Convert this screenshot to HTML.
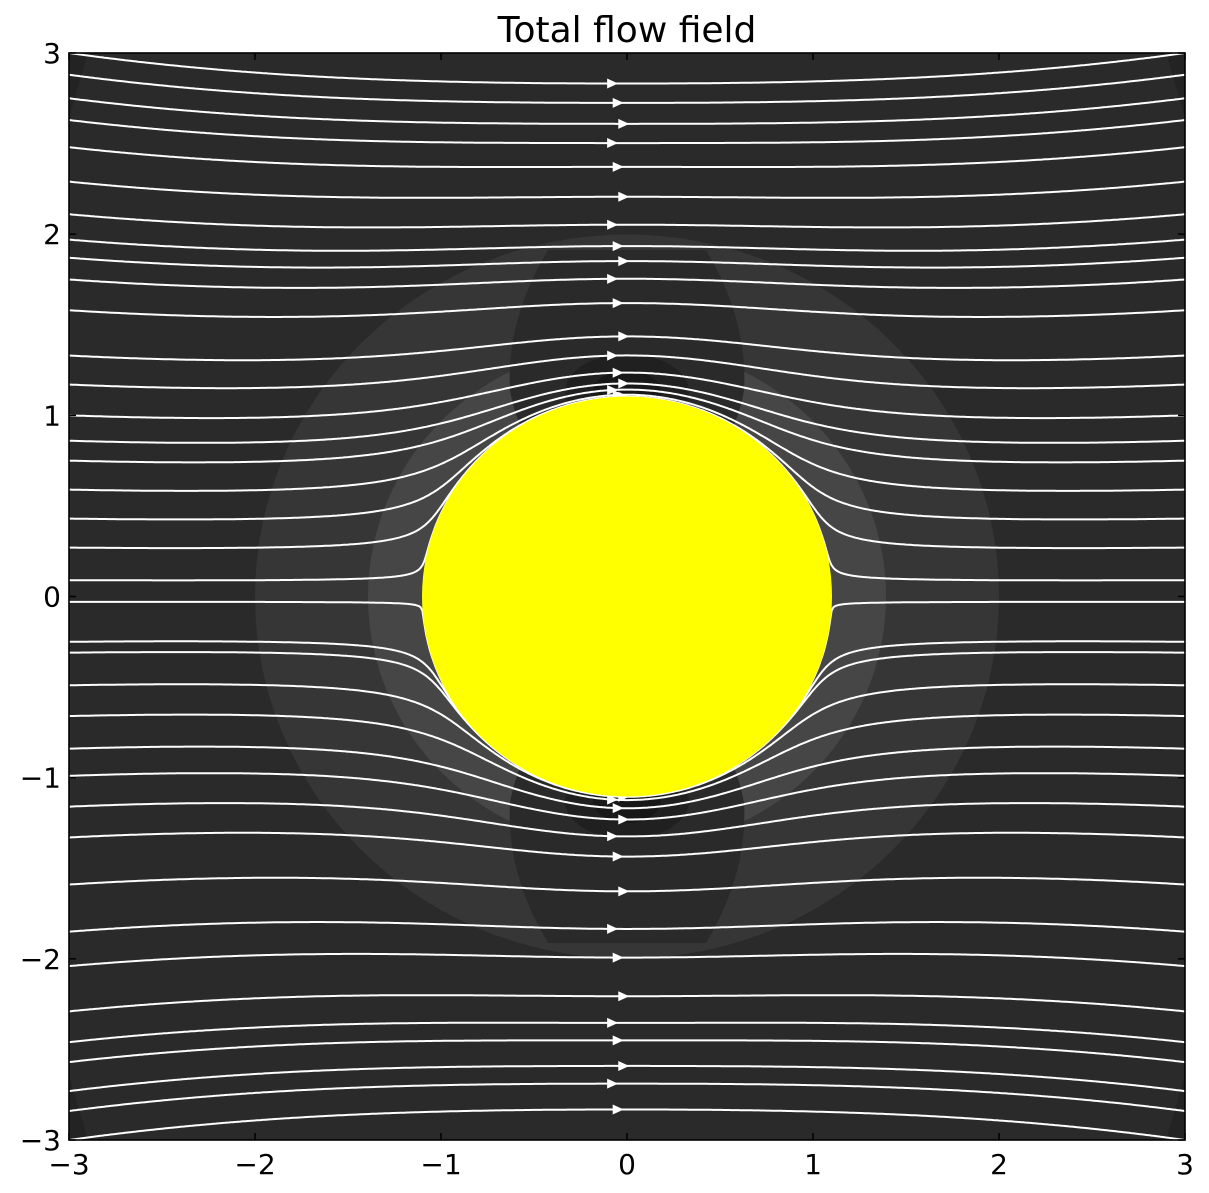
<!DOCTYPE html>
<html><head><meta charset="utf-8"><style>
html,body{margin:0;padding:0;background:#fff;}
svg{display:block;font-family:"DejaVu Sans","Liberation Sans",sans-serif;}
</style></head><body>
<svg id="chart" width="1209" height="1193" viewBox="0 0 1209 1193" xmlns="http://www.w3.org/2000/svg">
<defs><clipPath id="clip"><rect x="69" y="53" width="1116" height="1087"/></clipPath></defs>
<text x="627" y="42" font-size="36" text-anchor="middle" fill="#000">Total flow field</text>
<g clip-path="url(#clip)">
<rect x="69" y="53" width="1116" height="1087" fill="#2a2a2a"/>
<path d="M69,53 L88,53 L69,118Z M69,1140 L88,1140 L69,1075Z M1185,53 L1166,53 L1185,118Z M1185,1140 L1166,1140 L1185,1075Z" fill="#232323"/>
<ellipse cx="627" cy="596.5" rx="372" ry="362" fill="#363636"/>
<ellipse cx="627" cy="596.5" rx="259" ry="252" fill="#464646"/>
<path d="M548,250 L706,250 Q748,320 744,390 Q736,440 700,470 L555,470 Q518,440 510,390 Q506,320 548,250Z" fill="#2a2a2a"/>
<path d="M548,943 L706,943 Q748,873 744,803 Q736,753 700,723 L555,723 Q518,753 510,803 Q506,873 548,943Z" fill="#2a2a2a"/>
<ellipse cx="627" cy="392" rx="62" ry="38" fill="#202020"/>
<ellipse cx="627" cy="392" rx="34" ry="22" fill="#181818"/>
<ellipse cx="627" cy="801" rx="62" ry="38" fill="#202020"/>
<ellipse cx="627" cy="801" rx="34" ry="22" fill="#181818"/>
<g id="lines"></g>
<ellipse cx="627" cy="596.5" rx="205" ry="200" fill="#ffff00"/>
</g>
<rect x="69" y="53" width="1116" height="1087" fill="none" stroke="#000" stroke-width="1.6"/>
<g id="axes"></g>
</svg>
<script>
// data
const startY = [3.0, 2.88, 2.75, 2.63, 2.48, 2.29, 2.11, 1.97, 1.87, 1.75, 1.58, 1.33, 1.17, 1.0, 0.86, 0.75, 0.59, 0.43, 0.27, 0.09,
  -0.03, -0.25, -0.31, -0.49, -0.66, -0.84, -0.99, -1.16, -1.33, -1.59, -1.85, -2.04, -2.29, -2.46, -2.57, -2.73, -2.84, -3.0];
const xTicks = [-3, -2, -1, 0, 1, 2, 3];
const yTicks = [-3, -2, -1, 0, 1, 2, 3];
const R = 1.1, P = 0.2, G = 0.0082;

const svgNS = "http://www.w3.org/2000/svg";
const px = x => 627 + 186 * x;
const py = y => 596.5 - 181.17 * y;
function psi(x, y) {
  const r2 = x * x + y * y;
  const g = Math.max(0, 1 - R * R / r2);
  return y * Math.pow(g, P) * (1 - G * x * x);
}
function solveY(x, target) {
  let lo = Math.abs(x) < R ? Math.sqrt(R * R - x * x) + 1e-7 : 0, hi = 6;
  for (let i = 0; i < 60; i++) {
    const m = (lo + hi) / 2;
    if (psi(x, m) < target) lo = m; else hi = m;
  }
  return (lo + hi) / 2;
}
const lg = document.getElementById('lines');
startY.forEach((y0, i) => {
  const s = y0 < 0 ? -1 : 1;
  const target = psi(-3, Math.abs(y0));
  const pts = [];
  for (let x = -3.02; x <= 3.021; x += 0.01) pts.push([x, s * solveY(x, target)]);
  const d = pts.map((p, k) => (k ? 'L' : 'M') + px(p[0]).toFixed(1) + ',' + py(p[1]).toFixed(1)).join('');
  const path = document.createElementNS(svgNS, 'path');
  path.setAttribute('d', d);
  path.setAttribute('fill', 'none');
  path.setAttribute('stroke', '#fff');
  path.setAttribute('stroke-width', '2');
  
  
  lg.appendChild(path);
  if (Math.abs(y0) > 0.4) {
    const ax = -0.08 + (i % 3) * 0.03;
    const ay = s * solveY(ax, target);
    const X = px(ax), Y = py(ay);
    const tri = document.createElementNS(svgNS, 'path');
    tri.setAttribute('d', `M${X + 6},${Y} L${X - 5},${Y - 5} L${X - 5},${Y + 5}Z`);
    tri.setAttribute('fill', '#fff');
    
    
    lg.appendChild(tri);
  }
});
const ag = document.getElementById('axes');
function mk(tag, attrs, text) {
  const e = document.createElementNS(svgNS, tag);
  for (const k in attrs) e.setAttribute(k, attrs[k]);
  if (text !== undefined) e.textContent = text;
  ag.appendChild(e);
  return e;
}
const fmt = v => v < 0 ? '\u2212' + Math.abs(v) : '' + v;
xTicks.forEach(v => {
  const X = px(v);
  const t1 = mk('line', {x1: X, x2: X, y1: 1140, y2: 1133, stroke: '#000', 'stroke-width': 1.5});
  
  
  const t2 = mk('line', {x1: X, x2: X, y1: 53, y2: 60, stroke: '#000', 'stroke-width': 1.5});
  
  
  const l = mk('text', {x: X, y: 1174, 'font-size': 28, 'text-anchor': 'middle', fill: '#000'}, fmt(v));
  
  
});
yTicks.forEach(v => {
  const Y = py(v);
  const t1 = mk('line', {x1: 69, x2: 76, y1: Y, y2: Y, stroke: '#000', 'stroke-width': 1.5});
  
  
  const t2 = mk('line', {x1: 1185, x2: 1178, y1: Y, y2: Y, stroke: '#000', 'stroke-width': 1.5});
  
  
  const l = mk('text', {x: 61, y: Y + 10, 'font-size': 28, 'text-anchor': 'end', fill: '#000'}, fmt(v));
  
  
});
</script>
</body></html>
